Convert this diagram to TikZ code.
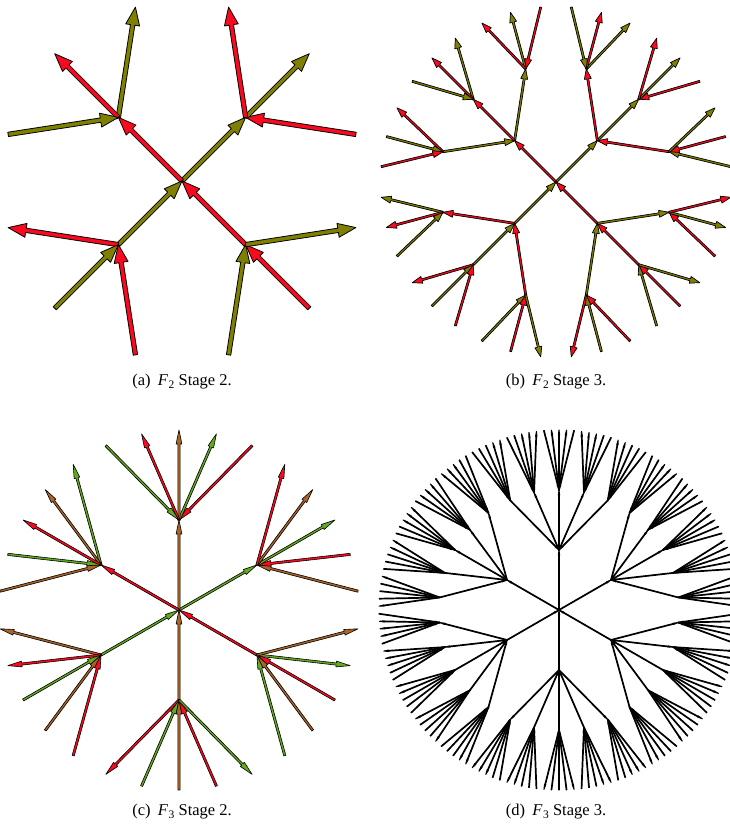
\documentclass[tikz,border=0pt]{standalone}
\usepackage{fontspec}
\setmainfont{Liberation Serif}
\usetikzlibrary{calc}

\definecolor{olivec}{RGB}{128,128,0}
\definecolor{redc}{RGB}{250,10,30}
\definecolor{greenc}{RGB}{100,170,30}
\definecolor{brownc}{RGB}{170,100,40}

% arrow as outlined polygon from #1 to #2, fill colour #3
\newcommand\garrow[3]{%
  \draw[fill=#3, draw=black, line width=\olw pt, line join=round]
    let \p1=(#1), \p2=(#2),
        \n1={atan2(\y2-\y1,\x2-\x1)},
        \n2={veclen(\x2-\x1,\y2-\y1)},
        \n3={atan2(\hw,\hl)},
        \n4={veclen(\hw,\hl)}
    in (\p1) ++(\n1+90:\sw pt)
       -- ++(\n1:{\n2-\hl pt})
       -- ++(\n1+90:{\hw pt-\sw pt})
       -- (\p2)
       -- ++(\n1+180+\n3:{\n4 pt})
       -- ++(\n1+90:{\hw pt-\sw pt})
       -- ++(\n1+180:{\n2-\hl pt})
       -- cycle;}

\newcommand\gedge[3]{%
  \pgfmathtruncatemacro\gc{mod(#3,\N)}%
  \ifnum#3<\N\relax \garrow{#1}{#2}{gen\gc}\else\garrow{#2}{#1}{gen\gc}\fi}

% #1 parent, #2 child name, #3 generator, #4 angle, #5 depth, #6 span
\newcommand\mkchild[6]{%
  \pgfmathsetmacro\px{\cx+#5*\R*cos(#4)}%
  \pgfmathsetmacro\py{\cy+#5*\R*sin(#4)}%
  \coordinate (#2) at (\px,\py);
  \gedge{#1}{#2}{#3}%
  \ifnum#5<\D\relax
    \foreach \i in {0,...,\M}{%
      \pgfmathtruncatemacro\g{mod(#3+\N+1+\i,2*\N)}%
      \pgfmathsetmacro\ang{#4+(\i-(\N-1))*#6/(2*\N-1)}%
      \pgfmathsetmacro\ns{#6/(2*\N-1)}%
      \pgfmathtruncatemacro\nd{#5+1}%
      \edef\next{\noexpand\mkchild{#2}{#2-\i}{\g}{\ang}{\nd}{\ns}}\next
    }%
  \fi}

% #1 root name
\newcommand\mktree[1]{%
  \coordinate (#1) at (\cx,\cy);
  \pgfmathtruncatemacro\M{2*\N-2}%
  \pgfmathtruncatemacro\KK{2*\N-1}%
  \foreach \k in {0,...,\KK}{%
    \pgfmathsetmacro\ang{(\k+0.5)*360/(2*\N)}%
    \pgfmathsetmacro\ns{360/(2*\N)}%
    \edef\next{\noexpand\mkchild{#1}{#1-\k}{\k}{\ang}{1}{\ns}}\next
  }}

\newcommand\fsub[1]{\textit{F}\kern0.03em\raisebox{-0.32ex}{\fontsize{11.5}{11.5}\selectfont #1}}

\begin{document}
\begin{tikzpicture}[x=1pt,y=1pt]
\useasboundingbox (0,0) rectangle (729,830);
\tikzset{caption/.style={font=\fontsize{16.5}{19}\selectfont, inner sep=0pt}}

% (a) F2 stage 2
\begin{scope}
  \def\N{2}\def\D{2}\def\R{90}\def\cx{182}\def\cy{649}
  \def\sw{2.2}\def\hl{18}\def\hw{7}\def\olw{0.8}
  \colorlet{gen0}{olivec}\colorlet{gen1}{redc}
  \mktree{A}
\end{scope}

% (b) F2 stage 3
\begin{scope}
  \def\N{2}\def\D{3}\def\R{58.5}\def\cx{556}\def\cy{648}
  \def\sw{1.0}\def\hl{10}\def\hw{3.5}\def\olw{0.7}
  \colorlet{gen0}{olivec}\colorlet{gen1}{redc}
  \mktree{B}
\end{scope}

% (c) F3 stage 2
\begin{scope}
  \def\N{3}\def\D{2}\def\R{90}\def\cx{179}\def\cy{220}
  \def\sw{1.1}\def\hl{14}\def\hw{2.9}\def\olw{0.6}
  \colorlet{gen0}{greenc}\colorlet{gen1}{brownc}\colorlet{gen2}{redc}
  \mktree{C}
\end{scope}

% (d) F3 stage 3
\begin{scope}
  \def\N{3}\def\D{3}\def\R{60}\def\cx{559}\def\cy{220}
  \def\sw{0.35}\def\hl{5}\def\hw{0.65}\def\olw{1.0}
  \colorlet{gen0}{greenc}\colorlet{gen1}{brownc}\colorlet{gen2}{redc}
  \mktree{D}
\end{scope}

\node[caption] (capa) at (182,448) {(a)\hspace{0.45em}\fsub{2} Stage 2.};
\node[caption] (capb) at (556,448) {(b)\hspace{0.45em}\fsub{2} Stage 3.};
\node[caption] (capc) at (182,18) {(c)\hspace{0.45em}\fsub{3} Stage 2.};
\node[caption] (capd) at (556,18) {(d)\hspace{0.45em}\fsub{3} Stage 3.};
\end{tikzpicture}
\end{document}
